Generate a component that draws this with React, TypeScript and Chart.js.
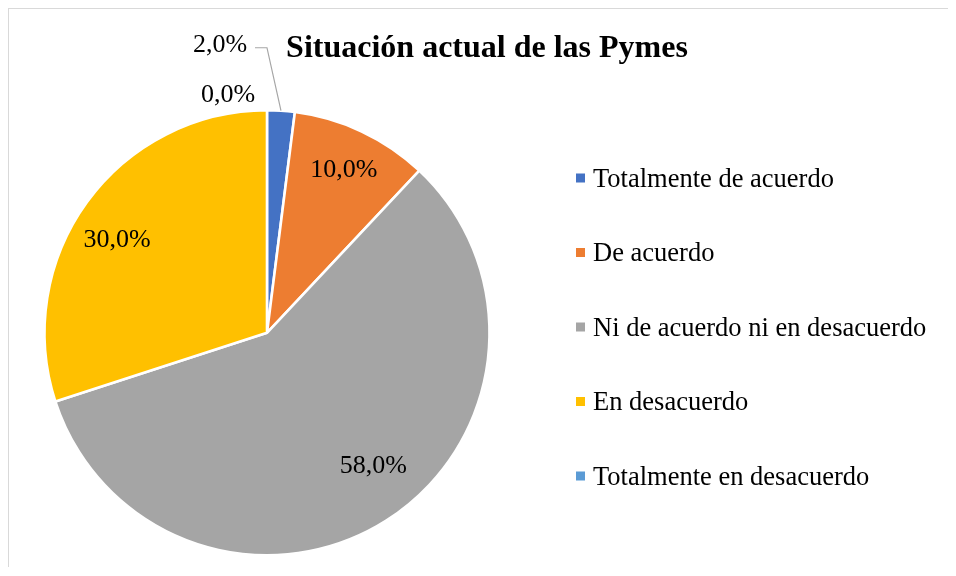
import React, { useEffect, useRef } from "react";
import { Chart, registerables } from "chart.js";

Chart.register(...registerables);

const TITLE = "Situación actual de las Pymes";
const categories = [
  "Totalmente de acuerdo",
  "De acuerdo",
  "Ni de acuerdo ni en desacuerdo",
  "En desacuerdo",
  "Totalmente en desacuerdo",
];
const percentages = [2, 10, 58, 30, 0];
const sliceColors = ["#4472C4", "#ED7D31", "#A5A5A5", "#FFC000", "#5B9BD5"];

const FONT = '"Liberation Serif", "Times New Roman", serif';

// label placement styles (offsets in px)
type Place = { outside: boolean; dx: number; dy: number; leader?: number[][] };
const labelPlacement: Place[] = [
  { outside: true, dx: -61, dy: -66, leader: [[-14, -63], [-26, -63]] },
  { outside: false, dx: 1, dy: -2 },
  { outside: false, dx: 11, dy: -17 },
  { outside: false, dx: -6, dy: 12 },
  { outside: true, dx: -39, dy: -15.5 },
];

const fmt = (v: number) => v.toFixed(1).replace(".", ",") + "%";

const pieLabels = {
  id: "pieLabels",
  afterDatasetsDraw(chart: any) {
    const ctx = chart.ctx;
    const meta = chart.getDatasetMeta(0);
    const data = chart.data.datasets[0].data as number[];
    ctx.save();
    ctx.font = `26px ${FONT}`;
    ctx.fillStyle = "#000";
    ctx.textAlign = "center";
    ctx.textBaseline = "middle";
    meta.data.forEach((arc: any, i: number) => {
      const p = arc.getProps(["x", "y", "startAngle", "endAngle", "outerRadius"], true);
      const mid = (p.startAngle + p.endAngle) / 2;
      const place = labelPlacement[i];
      const text = fmt(data[i]);
      if (place.outside) {
        const ex = p.x + Math.cos(mid) * p.outerRadius;
        const ey = p.y + Math.sin(mid) * p.outerRadius;
        if (place.leader) {
          ctx.save();
          ctx.strokeStyle = "#A6A6A6";
          ctx.lineWidth = 1.2;
          ctx.beginPath();
          ctx.moveTo(ex, ey);
          place.leader.forEach(([lx, ly]) => ctx.lineTo(ex + lx, ey + ly));
          ctx.stroke();
          ctx.restore();
        }
        ctx.fillText(text, ex + place.dx, ey + place.dy);
      } else {
        const r = p.outerRadius * 0.8;
        ctx.fillText(text, p.x + Math.cos(mid) * r + place.dx, p.y + Math.sin(mid) * r + place.dy);
      }
    });
    ctx.restore();
  },
};

const titleAndLegend = {
  id: "titleAndLegend",
  afterDraw(chart: any) {
    const ctx = chart.ctx;
    ctx.save();
    ctx.fillStyle = "#000";
    ctx.font = `bold 32px ${FONT}`;
    ctx.textAlign = "center";
    ctx.textBaseline = "alphabetic";
    ctx.fillText(TITLE, 478, 48);

    const labels = chart.data.labels as string[];
    const colors = chart.data.datasets[0].backgroundColor as string[];
    ctx.font = `26.5px ${FONT}`;
    ctx.textAlign = "left";
    labels.forEach((lab, i) => {
      const cy = 169 + i * 74.5;
      ctx.fillStyle = colors[i];
      ctx.fillRect(567, cy - 4.5, 9, 9);
      ctx.fillStyle = "#000";
      ctx.fillText(lab, 584, cy + 8.5);
    });
    ctx.restore();
  },
};

export default function App() {
  const ref = useRef<HTMLCanvasElement | null>(null);
  useEffect(() => {
    if (!ref.current) return;
    const chart = new Chart(ref.current, {
      type: "pie",
      data: {
        labels: categories,
        datasets: [
          {
            data: percentages,
            backgroundColor: sliceColors,
            borderColor: "#FFFFFF",
            borderWidth: 2.6,
          },
        ],
      },
      options: {
        animation: false,
        responsive: true,
        maintainAspectRatio: false,
        layout: { padding: { top: 100, bottom: 10.4, left: 14, right: 437 } },
        plugins: {
          legend: { display: false },
          title: { display: false },
          tooltip: { enabled: false },
        },
      },
      plugins: [pieLabels, titleAndLegend],
    });
    return () => chart.destroy();
  }, []);
  return (
    <div
      style={{
        borderLeft: "1px solid #D9D9D9",
        borderTop: "1px solid #D9D9D9",
        height: 558,
        marginRight: -8,
        background: "#fff",
      }}
    >
      <div style={{ position: "relative", width: 939, height: 558 }}>
        <canvas ref={ref} />
      </div>
    </div>
  );
}
